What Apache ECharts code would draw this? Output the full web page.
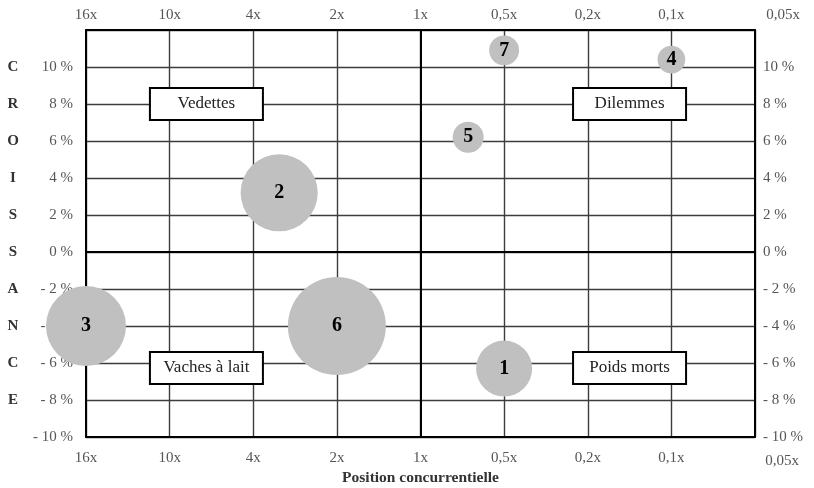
<!DOCTYPE html>
<html>
<head>
<meta charset="utf-8">
<script src="https://cdn.jsdelivr.net/npm/echarts@6/dist/echarts.min.js"></script>
<style>html,body{margin:0;padding:0;background:#fff}#c{width:814px;height:488px}</style>
</head>
<body>
<div id="c"></div>
<script>
// Tick labels
var xTickLabels = ['16x', '10x', '4x', '2x', '1x', '0,5x', '0,2x', '0,1x', '0,05x'];
var yTicks = [-10, -8, -6, -4, -2, 0, 2, 4, 6, 8, 10, 12];
var yTitleLetters = ['C', 'R', 'O', 'I', 'S', 'S', 'A', 'N', 'C', 'E'];

// Bubbles (x = index on relative-share scale, y = growth %, size = sales)
var bubbleNames = ['1', '2', '3', '4', '5', '6', '7'];
var bubbleX = [5, 2.31, 0, 7, 4.57, 3, 5];
var bubbleY = [-6.3, 3.2, -4, 10.4, 6.2, -4, 10.9];
var bubbleSales = [49, 93, 100, 12, 15, 150, 14];

// Quadrant labels
var quadrantNames = ['Vedettes', 'Dilemmes', 'Vaches à lait', 'Poids morts'];
var quadrantX = [1.44, 6.5, 1.44, 6.5];
var quadrantY = [8, 8, -6.27, -6.27];

var FONT = '"Liberation Serif", "DejaVu Serif", serif';

function yFmt(v) {
  if (v === 12) return '';
  if (v < 0) return '- ' + Math.abs(v) + ' %';
  return v + ' %';
}
function xFmt(v) {
  var i = Math.round(v);
  var t = xTickLabels[i] || '';
  if (i === 8) return '{s|' + t + '}';
  return t;
}

var bubbleData = bubbleNames.map(function (n, i) {
  return { name: n, value: [bubbleX[i], bubbleY[i], bubbleSales[i]] };
});
var quadData = quadrantNames.map(function (n, i) {
  return { name: n, value: [quadrantX[i], quadrantY[i]] };
});

var axisLabelBase = { color: '#555', fontFamily: FONT, fontSize: 15 };
var gridLine = { show: true, lineStyle: { color: '#3c3c3c', width: 1.4 } };

var chart = echarts.init(document.getElementById('c'), null, { renderer: 'canvas' });
chart.setOption({
  animation: false,
  backgroundColor: '#fff',
  grid: { left: 86, right: 59, top: 30, bottom: 51, containLabel: false, outerBoundsMode: 'none' },
  xAxis: [
    {
      type: 'value', position: 'bottom', min: 0, max: 8, interval: 1,
      name: 'Position concurrentielle', nameLocation: 'middle', nameGap: 33, nameMoveOverlap: false,
      nameTextStyle: { fontFamily: FONT, fontSize: 15.5, fontWeight: 'bold', color: '#333' },
      axisLine: { show: true, onZero: false, lineStyle: { color: '#000', width: 2 } },
      axisTick: { show: false },
      axisLabel: Object.assign({}, axisLabelBase, { margin: 14, formatter: xFmt,
        rich: { s: { fontFamily: FONT, fontSize: 15, color: '#555', padding: [3, 0, 0, 54] } } }),
      splitLine: gridLine
    },
    {
      type: 'value', position: 'top', min: 0, max: 8, interval: 1,
      axisLine: { show: true, onZero: false, lineStyle: { color: '#000', width: 2 } },
      axisTick: { show: false },
      axisLabel: Object.assign({}, axisLabelBase, { margin: 7, formatter: xFmt,
        rich: { s: { fontFamily: FONT, fontSize: 15, color: '#555', padding: [0, 0, 0, 56] } } }),
      splitLine: { show: false }
    }
  ],
  yAxis: [
    {
      type: 'value', position: 'left', min: -10, max: 12, interval: 2,
      name: yTitleLetters.join('\n'), nameLocation: 'middle', nameRotate: 0, nameGap: 73,
      nameMoveOverlap: false,
      nameTextStyle: { fontFamily: FONT, fontSize: 15, fontWeight: 'bold', color: '#333',
        lineHeight: 37, align: 'center', verticalAlign: 'middle', padding: [8, 0, 0, 0] },
      axisLine: { show: true, onZero: false, lineStyle: { color: '#000', width: 2 } },
      axisTick: { show: false },
      axisLabel: Object.assign({}, axisLabelBase, { margin: 13, formatter: yFmt }),
      splitLine: gridLine
    },
    {
      type: 'value', position: 'right', min: -10, max: 12, interval: 2,
      axisLine: { show: true, onZero: false, lineStyle: { color: '#000', width: 2 } },
      axisTick: { show: false },
      axisLabel: Object.assign({}, axisLabelBase, { margin: 8, formatter: yFmt }),
      splitLine: { show: false }
    }
  ],
  series: [
    {
      type: 'scatter', name: 'quadrants', xAxisIndex: 0, yAxisIndex: 0,
      data: quadData, symbol: 'path://M0,0H113V32H0Z', symbolKeepAspect: true,
      symbolSize: 113, z: 3, silent: true,
      itemStyle: { color: '#fff', borderColor: '#000', borderWidth: 2, opacity: 1 },
      label: { show: true, position: 'inside', formatter: '{b}', color: '#222',
        fontFamily: FONT, fontSize: 17 },
      markLine: {
        silent: true, symbol: 'none', animation: false,
        lineStyle: { color: '#000', width: 2, type: 'solid' },
        label: { show: false },
        data: [{ xAxis: 4 }, { yAxis: 0 }]
      }
    },
    {
      type: 'scatter', name: 'produits', xAxisIndex: 0, yAxisIndex: 0,
      data: bubbleData, clip: false, z: 5,
      symbolSize: function (v) { return 8 * Math.sqrt(v[2]); },
      itemStyle: { color: '#c0c0c0', opacity: 1 },
      label: { show: true, position: 'inside', formatter: '{b}', color: '#000',
        fontFamily: FONT, fontSize: 20, fontWeight: 'bold' }
    }
  ]
});
</script>
</body>
</html>
